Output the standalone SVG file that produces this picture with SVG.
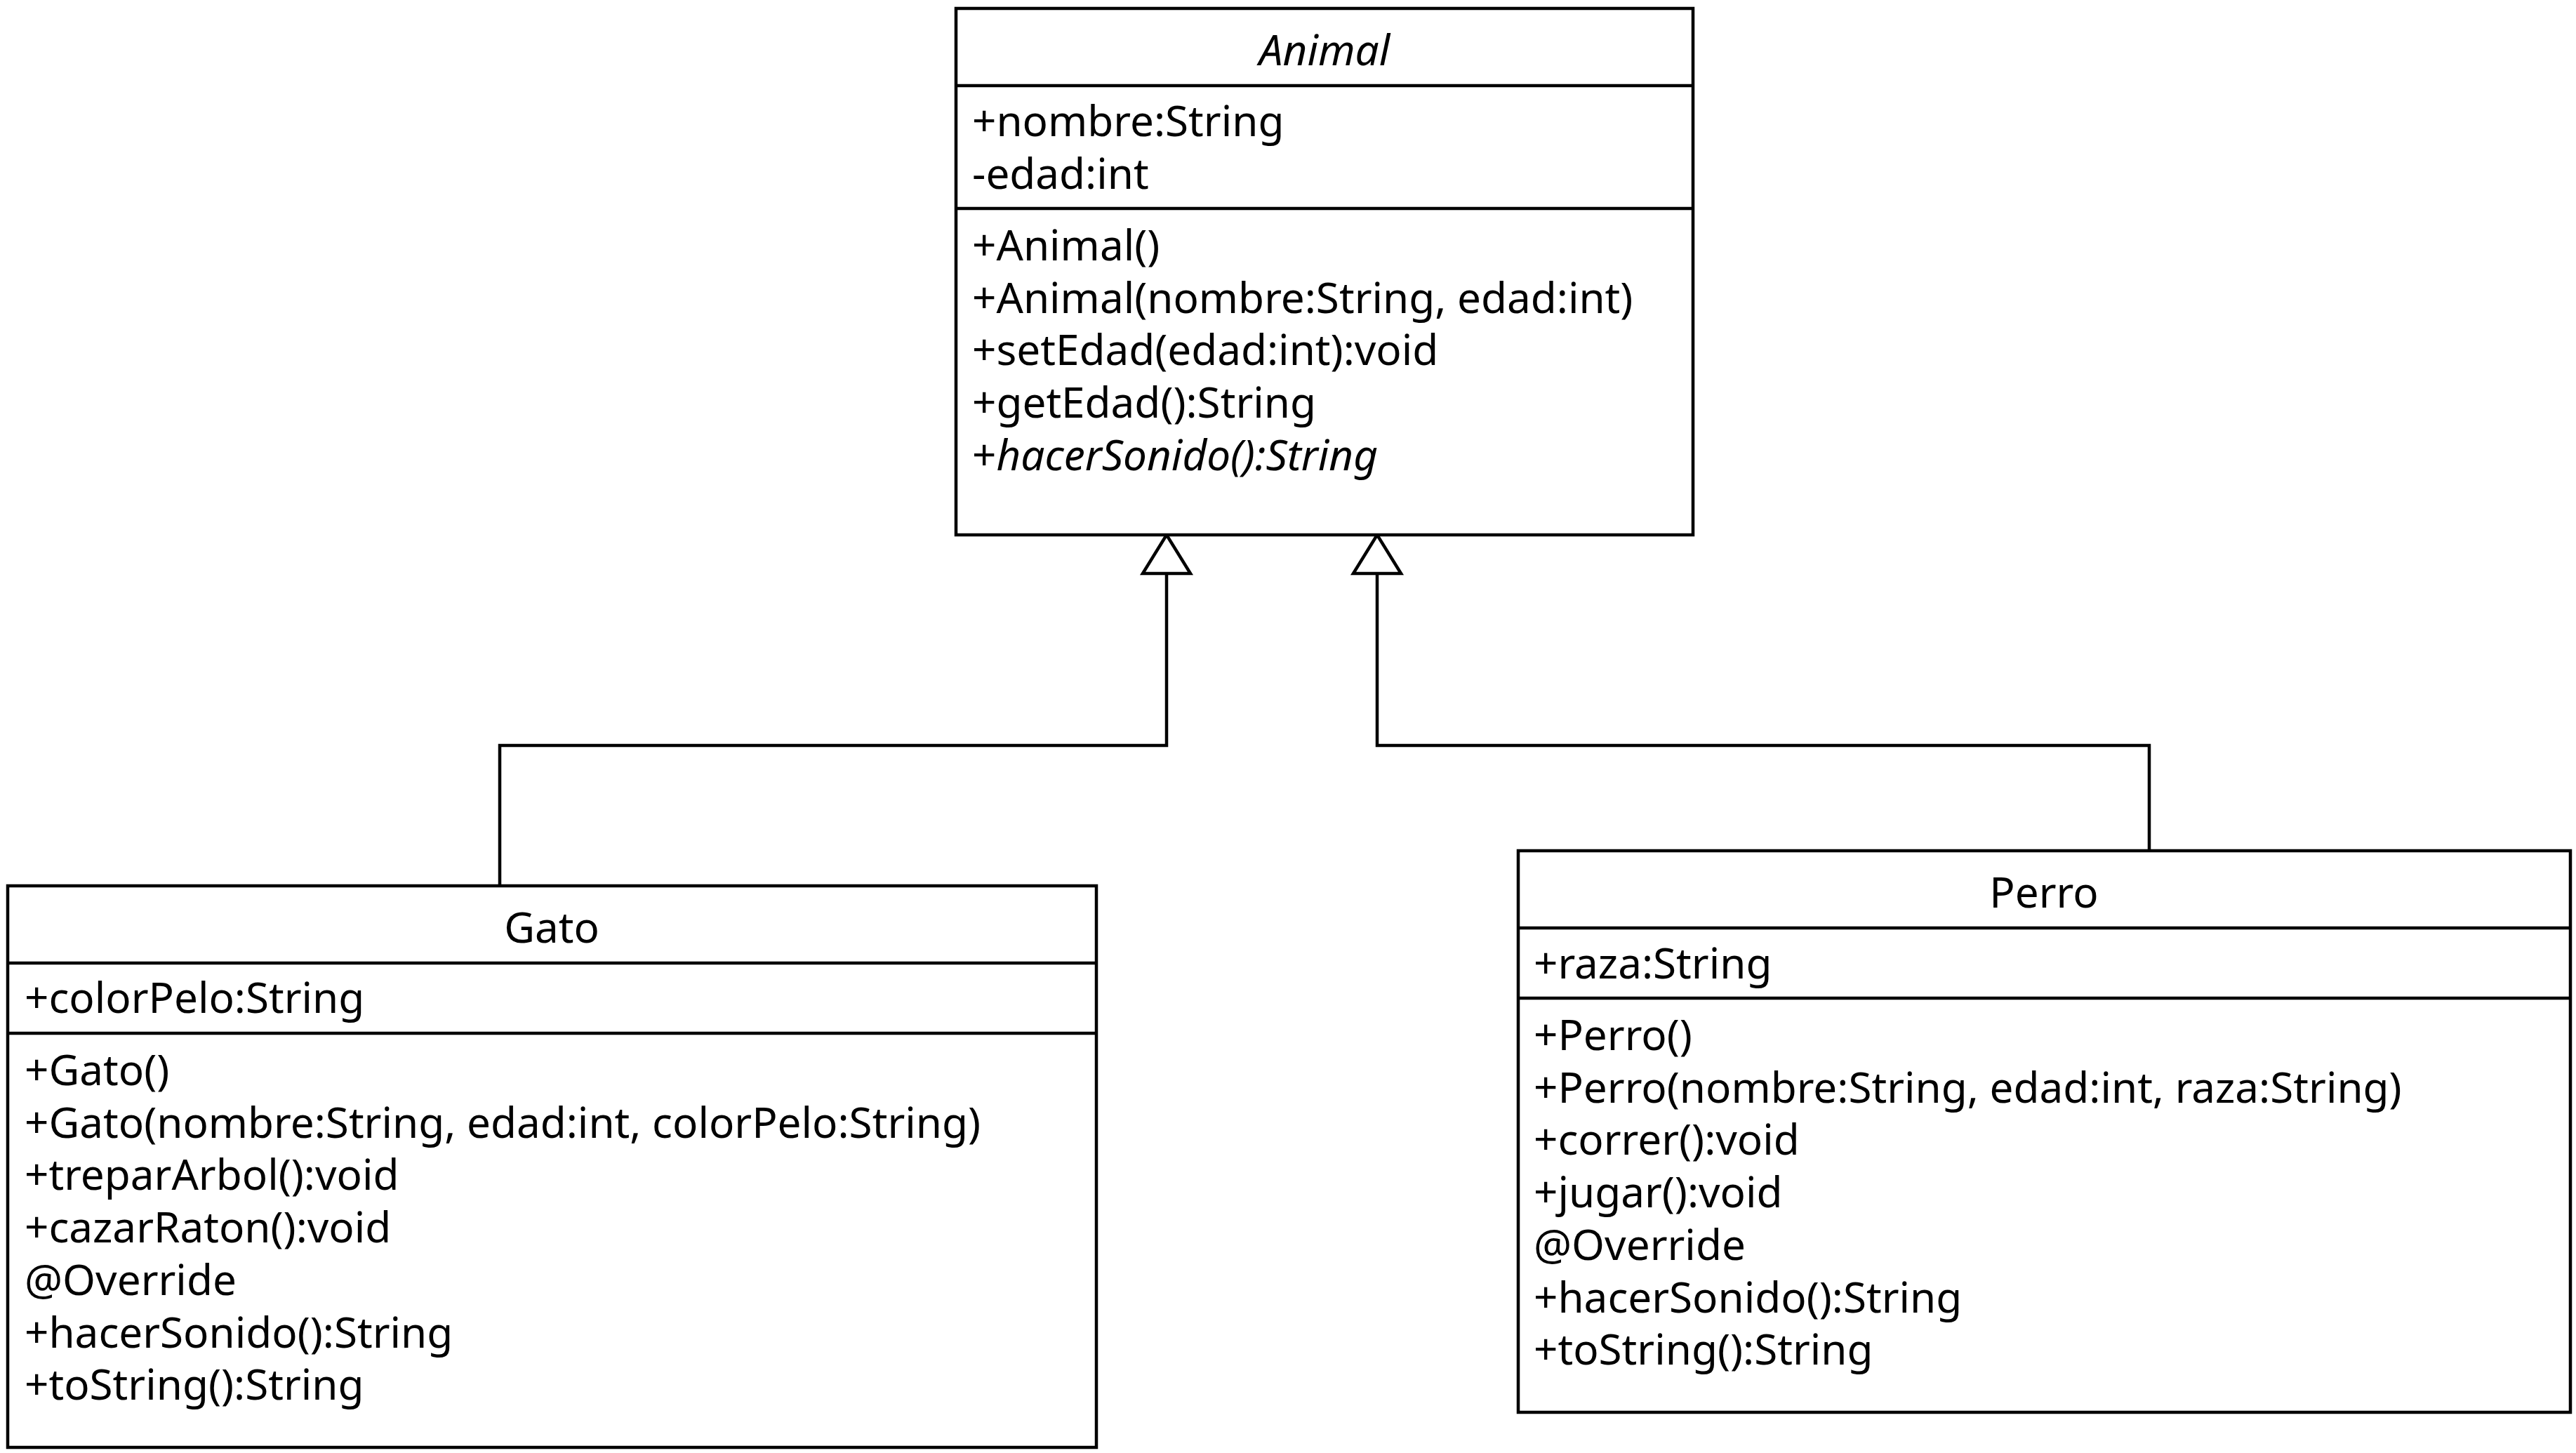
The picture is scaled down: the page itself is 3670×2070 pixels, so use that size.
<svg xmlns="http://www.w3.org/2000/svg" width="3670" height="2070" viewBox="0 0 3670 2070">
<style>
.box{fill:#fff;stroke:#000;stroke-width:4.5}
.div{stroke:#000;stroke-width:4.5}
.t{font-family:"Noto Sans","Open Sans",sans-serif;font-size:60.2px;fill:#000}
.c{text-anchor:middle}
.i{font-style:italic}
.edge{fill:none;stroke:#000;stroke-width:4.5}
.head{fill:#fff;stroke:#000;stroke-width:4.5}
</style>
<rect width="3670" height="2070" fill="#fff"/>
<g id="connectors">
<path class="edge" d="M712 1262 V1062 H1662 V817"/>
<path class="edge" d="M3062 1212 V1062 H1962 V817"/>
<path class="head" d="M1662 762 L1696 817 L1628 817 Z"/>
<path class="head" d="M1962 762 L1996 817 L1928 817 Z"/>
</g>
<g id="Animal">
<rect class="box" x="1362" y="12" width="1050" height="750"/>
<line class="div" x1="1362" y1="122" x2="2412" y2="122"/>
<line class="div" x1="1362" y1="297" x2="2412" y2="297"/>
<text class="t c i" x="1887" y="93">Animal</text>
<text class="t" x="1385" y="194">+nombre:String</text>
<text class="t" x="1385" y="269">-edad:int</text>
<text class="t" x="1385" y="371">+Animal()</text>
<text class="t" x="1385" y="446">+Animal(nombre:String, edad:int)</text>
<text class="t" x="1385" y="520">+setEdad(edad:int):void</text>
<text class="t" x="1385" y="595">+getEdad():String</text>
<text class="t" x="1385" y="670">+<tspan class="i">hacerSonido():String</tspan></text>
</g>
<g id="Gato">
<rect class="box" x="11" y="1262" width="1551" height="800"/>
<line class="div" x1="11" y1="1372" x2="1562" y2="1372"/>
<line class="div" x1="11" y1="1472" x2="1562" y2="1472"/>
<text class="t c" x="786" y="1343">Gato</text>
<text class="t" x="35" y="1443">+colorPelo:String</text>
<text class="t" x="35" y="1546">+Gato()</text>
<text class="t" x="35" y="1621">+Gato(nombre:String, edad:int, colorPelo:String)</text>
<text class="t" x="35" y="1695">+treparArbol():void</text>
<text class="t" x="35" y="1770">+cazarRaton():void</text>
<text class="t" x="35" y="1845">@Override</text>
<text class="t" x="35" y="1920">+hacerSonido():String</text>
<text class="t" x="35" y="1994">+toString():String</text>
</g>
<g id="Perro">
<rect class="box" x="2163" y="1212" width="1499" height="800"/>
<line class="div" x1="2163" y1="1322" x2="3662" y2="1322"/>
<line class="div" x1="2163" y1="1422" x2="3662" y2="1422"/>
<text class="t c" x="2912" y="1293">Perro</text>
<text class="t" x="2185" y="1394">+raza:String</text>
<text class="t" x="2185" y="1496">+Perro()</text>
<text class="t" x="2185" y="1571">+Perro(nombre:String, edad:int, raza:String)</text>
<text class="t" x="2185" y="1645">+correr():void</text>
<text class="t" x="2185" y="1720">+jugar():void</text>
<text class="t" x="2185" y="1795">@Override</text>
<text class="t" x="2185" y="1870">+hacerSonido():String</text>
<text class="t" x="2185" y="1944">+toString():String</text>
</g>
</svg>
